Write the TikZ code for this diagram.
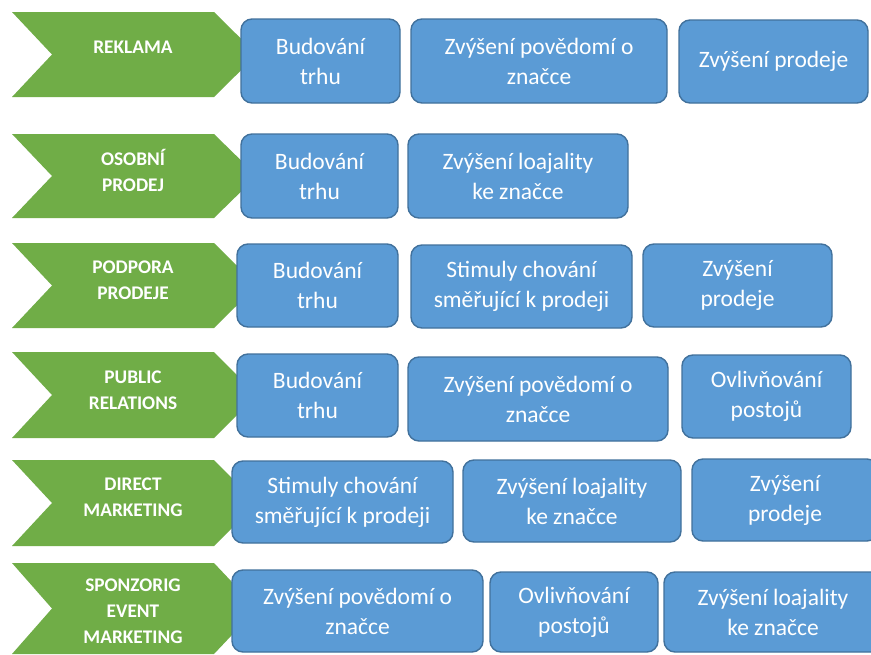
\documentclass[tikz,border=0pt]{standalone}
\usepackage{fontspec}
\setmainfont{Carlito}
\usepackage{tikz}
\definecolor{zelena}{RGB}{112,173,71}
\definecolor{modra}{RGB}{91,155,213}
\definecolor{modrak}{RGB}{65,113,156}
\tikzstyle{nastroj}=[text=white, align=center, inner sep=0, font=\bfseries\fontsize{19.3}{26}\selectfont]
\tikzstyle{cil}=[rectangle, rounded corners=11pt, fill=modra, draw=modrak, line width=1.4pt, text=white, align=center, inner sep=0, font=\fontsize{23.5}{30}\selectfont]

\begin{document}
\begin{tikzpicture}[x=1pt, y=-1pt]
\clip (0,0) rectangle (871,654);
\fill[white] (0,0) rectangle (871,654);
% sipky vlevo
\foreach \t/\b/\ty/\lab/\nm in {12/97/47/REKLAMA/n1, 134/218/170/{OSOBNÍ\\PRODEJ}/n2,
	243/328/280/{PODPORA\\PRODEJE}/n3, 352/438/390/{PUBLIC\\RELATIONS}/n4,
	460/546/497/{DIRECT\\MARKETING}/n5, 563/654/611/{SPONZORIG\\EVENT\\MARKETING}/n6}
	{\fill[zelena] (12,\t) -- (214,\t) -- (257,{(\t+\b)/2}) -- (214,\b)
		-- (12,\b) -- (52,{(\t+\b)/2}) -- cycle;
	\node[nastroj] (\nm) at (133,\ty) {\lab};}
% cile
\foreach \nm/\x/\y/\w/\h/\txt in {b11/320.5/61/159/84/{Budování\\trhu},
	b12/539/61/256/84/{Zvýšení povědomí o\\značce}, b13/773.5/61.5/189/83/{Zvýšení prodeje},
	b21/319.5/176/157/84/{Budování\\trhu}, b22/518/176/220/84/{Zvýšení loajality\\ke značce},
	b31/317.5/285.5/161/83/{Budování\\trhu}, b32/521.5/286.5/221/83/{Stimuly chování\\směřující k prodeji},
	b33/737.5/285.5/189/83/{Zvýšení\\prodeje},
	b41/317.5/395.5/161/83/{Budování\\trhu}, b42/538/399/260/84/{Zvýšení povědomí o\\značce},
	b43/766.5/396.5/169/83/{Ovlivňování\\postojů},
	b51/342.5/502/221/82/{Stimuly chování\\směřující k prodeji}, b52/572/501/218/82/{Zvýšení loajality\\ke značce},
	b53/785/500/186/82/{Zvýšení\\prodeje},
	b61/357.5/611/251/82/{Zvýšení povědomí o\\značce}, b62/574/612/168/80/{Ovlivňování\\postojů},
	b63/773/612/218/80/{Zvýšení loajality\\ke značce}}
	{\node[cil, minimum width=\w pt, minimum height=\h pt] (\nm) at (\x,\y) {\txt};}
\end{tikzpicture}
\end{document}
